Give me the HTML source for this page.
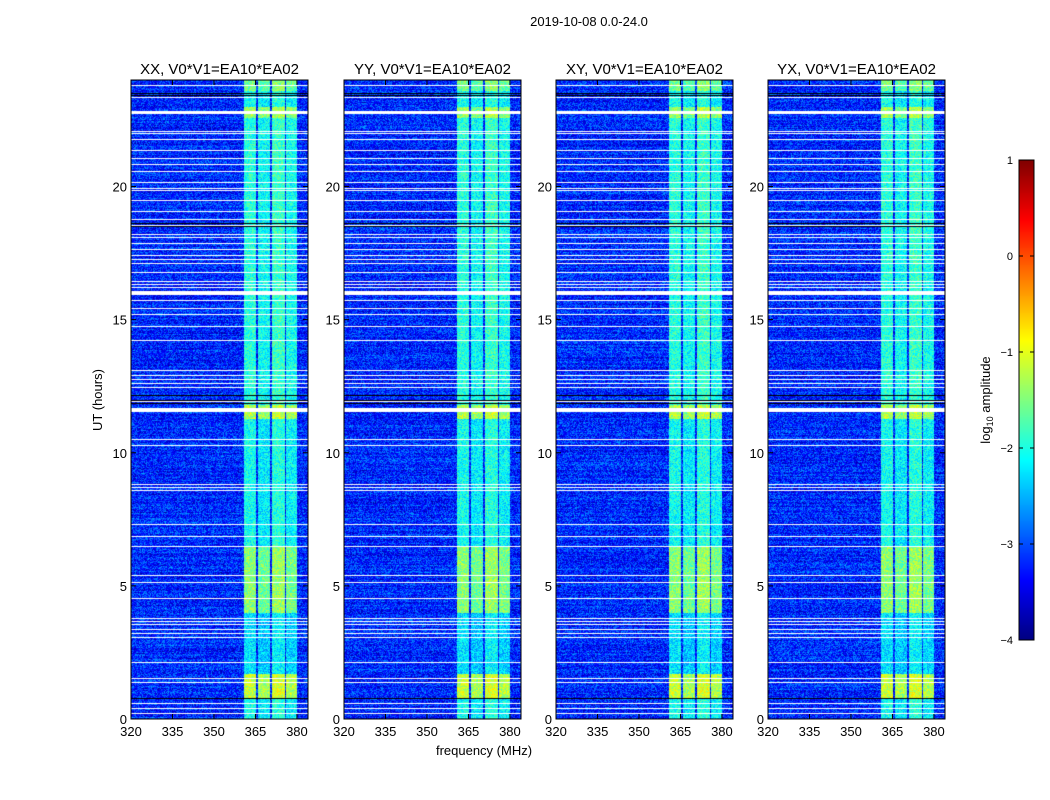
<!DOCTYPE html>
<html><head><meta charset="utf-8"><style>
body{margin:0;background:#fff;width:1050px;height:800px;overflow:hidden;position:relative;font-family:"Liberation Sans",sans-serif}
canvas{position:absolute}
svg{position:absolute;left:0;top:0}
</style></head><body>
<canvas id="c0" width="177" height="639" style="left:131px;top:80px"></canvas>
<canvas id="c1" width="177" height="639" style="left:344px;top:80px"></canvas>
<canvas id="c2" width="177" height="639" style="left:556px;top:80px"></canvas>
<canvas id="c3" width="177" height="639" style="left:768px;top:80px"></canvas>
<canvas id="cb" width="15" height="480" style="left:1019px;top:160px"></canvas>
<svg id="ov" width="1050" height="800">
<text x="589" y="26" font-size="13" text-anchor="middle">2019-10-08 0.0-24.0</text>
<text x="98" y="404" font-size="13" text-anchor="middle" transform="rotate(-90 98 400)">UT (hours)</text>
<text x="484" y="755" font-size="13" text-anchor="middle">frequency (MHz)</text>
<text x="986" y="404" font-size="13" text-anchor="middle" transform="rotate(-90 986 400)">log<tspan font-size="9" dy="3">10</tspan><tspan dy="-3"> amplitude</tspan></text>
</svg>
<script>
const titles=["XX, V0*V1=EA10*EA02","YY, V0*V1=EA10*EA02","XY, V0*V1=EA10*EA02","YX, V0*V1=EA10*EA02"];
const panelLefts=[131,344,556,768];
const xTicks=[320,335,350,365,380];
const yTicks=[0,5,10,15,20];
const cbTicks=[1,0,-1,-2,-3,-4];
// flagged (white) times in hours
const flagged=[23.8,23.36,22.1,22.0,21.8,21.37,21.07,20.85,20.6,20.18,19.95,19.85,19.48,19.07,18.77,18.55,18.2,18.1,17.87,17.64,17.41,17.26,17.11,16.78,16.44,16.33,16.22,15.73,15.43,15.21,14.76,14.24,13.11,12.92,12.77,12.62,12.47,11.94,10.51,10.29,8.83,8.71,8.6,7.32,6.87,6.5,5.41,5.15,4.55,3.8,3.69,3.57,3.38,3.23,3.08,2.14,1.54,1.39,0.6,0.41,0.23];
// wide flagged blocks [start,end] hours
const flaggedWide=[[15.94,16.08],[11.55,11.7],[22.75,22.85]];
const dark=[23.5,23.42,23.35,18.62,18.5,12.17,12.0,11.85,10.51,0.8];
// band (360-380 MHz) mean log amplitude by time segment
const bandStart=[0,0.8,1.7,4.0,6.5,11.3,11.8,22.6,23.0,23.6];
const bandLevel=[-2.1,-1.2,-2.3,-1.5,-2.1,-1.3,-2.0,-1.4,-2.1,-1.6];
const bands=[[360.5,365.0,0.05],[365.6,370.2,-0.1],[370.8,375.5,0.15],[376.0,380.0,-0.05]];
const baseLevel=-3.2;
const fMin=320,fMax=384,tMax=24;
function xs(f){return (f-fMin)/(fMax-fMin)*177;}
function ys(t){return (tMax-t)/tMax*639;}
function jet(v){const x=Math.max(0,Math.min(1,(v+4)/5));const c=k=>Math.round(255*Math.max(0,Math.min(1,1.5-Math.abs(4*x-k))));return [c(3),c(2),c(1)];}
function hash(a,b,s){let h=(a*374761393+b*668265263+s*982451653)|0;h=(h^(h>>>13))*1274126177|0;return ((h^(h>>>16))>>>0)/4294967296;}
function bandAt(t){let l=bandLevel[0];for(let i=0;i<bandStart.length;i++)if(t>=bandStart[i])l=bandLevel[i];return l;}
const flagRows=new Set(flagged.map(t=>Math.round(ys(t))));
const darkRows=new Set(dark.map(t=>Math.round(ys(t))));
for(let p=0;p<4;p++){
  const cv=document.getElementById('c'+p),ctx=cv.getContext('2d');
  const img=ctx.createImageData(177,639),d=img.data;
  for(let y=0;y<639;y++){
    const t=tMax*(1-y/639);
    const rowOff=(hash(y,7,p)-0.5)*0.35;
    let wide=false;for(const w of flaggedWide)if(t>=w[0]&&t<=w[1])wide=true;
    for(let x=0;x<177;x++){
      const f=fMin+x/177*(fMax-fMin);
      let v=baseLevel+rowOff+(hash(x,y,p)-0.5)*1.0;
      for(const b of bands){if(f>=b[0]&&f<=b[1]){v=bandAt(t)+b[2]+(hash(x,y,p+9)-0.5)*0.8;}}
      let rgb=jet(v);
      if(darkRows.has(y))rgb=[0,0,0];
      if(flagRows.has(y)||wide)rgb=[255,255,255];
      const i=(y*177+x)*4;d[i]=rgb[0];d[i+1]=rgb[1];d[i+2]=rgb[2];d[i+3]=255;
    }
  }
  ctx.putImageData(img,0,0);
}
const cb=document.getElementById('cb').getContext('2d');
for(let y=0;y<480;y++){const c=jet(1-5*y/480);cb.fillStyle=`rgb(${c})`;cb.fillRect(0,y,15,1);}
const ov=document.getElementById('ov'),NS="http://www.w3.org/2000/svg";
function el(tag,attrs,txt){const e=document.createElementNS(NS,tag);for(const k in attrs)e.setAttribute(k,attrs[k]);if(txt!==undefined)e.textContent=txt;ov.appendChild(e);return e;}
for(let p=0;p<4;p++){
  const L=panelLefts[p];
  const fr=el('rect',{x:L,y:80,width:177,height:639,fill:'none',stroke:'#000','stroke-width':1});
  
  
  const tt=el('text',{x:L+88.5,y:74,'font-size':15,'text-anchor':'middle'},titles[p]);
  
  
  for(const f of xTicks){const x=L+xs(f);
    el('line',{x1:x,y1:719,x2:x,y2:714,stroke:'#000'});el('line',{x1:x,y1:80,x2:x,y2:85,stroke:'#000'});
    const lt=el('text',{x:x,y:736,'font-size':13,'text-anchor':'middle'},String(f));
    
    }
  for(const t of yTicks){const y=80+ys(t);
    el('line',{x1:L,y1:y,x2:L+5,y2:y,stroke:'#000'});el('line',{x1:L+177,y1:y,x2:L+172,y2:y,stroke:'#000'});
    const lt=el('text',{x:L-4,y:y+5,'font-size':13,'text-anchor':'end'},String(t));
    
    }
}
el('rect',{x:1019,y:160,width:15,height:480,fill:'none',stroke:'#000'});
cbTicks.forEach((v,i)=>{const y=160+(1-v)/5*480;
  el('line',{x1:1019,y1:y,x2:1023,y2:y,stroke:'#000'});el('line',{x1:1034,y1:y,x2:1030,y2:y,stroke:'#000'});
  const lt=el('text',{x:1013,y:y+4,'font-size':11,'text-anchor':'end'},v<0?'\u2212'+(-v):String(v));
  
  });
</script>
</body></html>
